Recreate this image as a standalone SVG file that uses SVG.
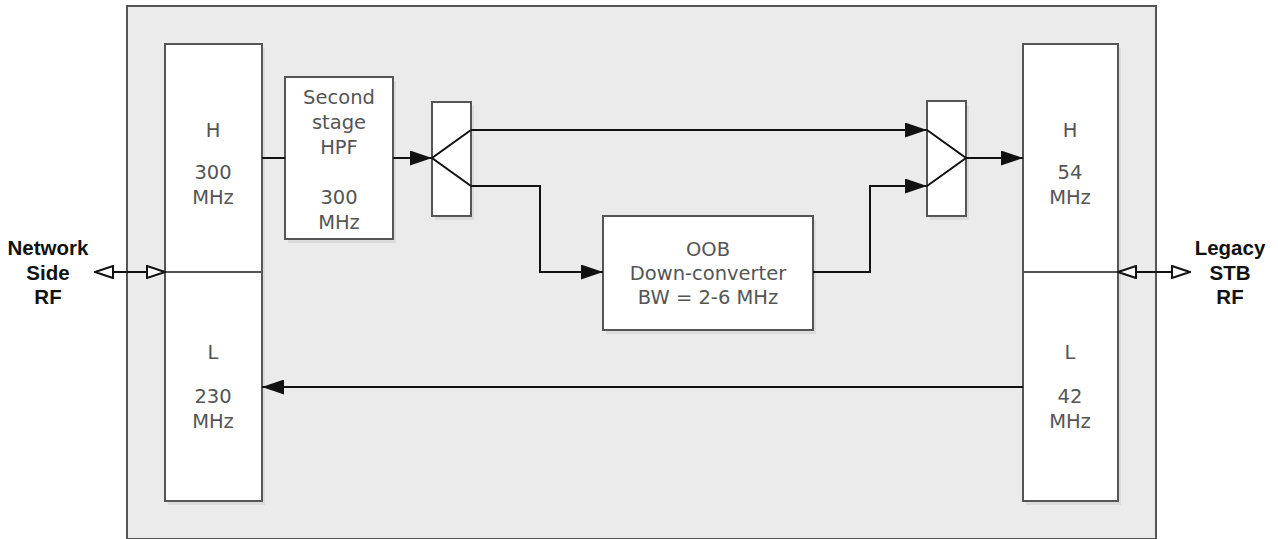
<svg xmlns="http://www.w3.org/2000/svg" width="1278" height="539" viewBox="0 0 1278 539">
<defs>
<style>
.box{fill:#fff;stroke:#555;stroke-width:2}
.sh{fill:#dcdcdc}
.t{font-family:"DejaVu Sans",Verdana,sans-serif;font-size:19.5px;fill:#555;text-anchor:middle}
.lb{font-family:"Liberation Sans",Arial,sans-serif;font-size:20.5px;font-weight:bold;fill:#111;text-anchor:middle}
.ln{fill:none;stroke:#111;stroke-width:2}
.dv{stroke:#555;stroke-width:2}
</style>
<marker id="ah" viewBox="0 0 22 15" refX="22" refY="7.5" markerWidth="22" markerHeight="15" markerUnits="userSpaceOnUse" orient="auto"><path d="M0,0 L22,7.5 L0,15 z" fill="#111"/></marker>
<marker id="oh" viewBox="0 0 20 14" refX="19" refY="7" markerWidth="20" markerHeight="14" markerUnits="userSpaceOnUse" orient="auto-start-reverse"><path d="M1,1 L19,7 L1,13 z" fill="#fff" stroke="#111" stroke-width="2"/></marker>
</defs>
<rect x="0" y="0" width="1278" height="539" fill="#fff"/>
<g id="enclosure"><rect x="127" y="6" width="1029" height="533" fill="#ebebeb" stroke="#555" stroke-width="2"/></g>
<g id="left-diplexer">
<rect class="sh" x="168" y="48" width="97" height="457"/>
<rect class="box" x="165" y="44" width="97" height="457"/>
<line class="dv" x1="165" y1="272" x2="262" y2="272"/>
<text class="t" x="213" y="137">H</text>
<text class="t" x="213" y="179">300</text>
<text class="t" x="213" y="204">MHz</text>
<text class="t" x="213" y="359">L</text>
<text class="t" x="213" y="403">230</text>
<text class="t" x="213" y="428">MHz</text>
</g>
<g id="right-diplexer">
<rect class="sh" x="1026" y="48" width="95" height="457"/>
<rect class="box" x="1023" y="44" width="95" height="457"/>
<line class="dv" x1="1023" y1="272" x2="1118" y2="272"/>
<text class="t" x="1070" y="137">H</text>
<text class="t" x="1070" y="179">54</text>
<text class="t" x="1070" y="204">MHz</text>
<text class="t" x="1070" y="359">L</text>
<text class="t" x="1070" y="403">42</text>
<text class="t" x="1070" y="428">MHz</text>
</g>
<g id="hpf">
<rect class="sh" x="288" y="81" width="108" height="162"/>
<rect class="box" x="285" y="77" width="108" height="162"/>
<text class="t" x="339" y="104">Second</text>
<text class="t" x="339" y="129">stage</text>
<text class="t" x="339" y="154">HPF</text>
<text class="t" x="339" y="204">300</text>
<text class="t" x="339" y="229">MHz</text>
</g>
<g id="splitter">
<rect class="sh" x="435" y="106" width="39" height="114"/>
<rect class="box" x="432" y="102" width="39" height="114"/>
<path class="ln" d="M471,130 L432,158 L471,186"/>
</g>
<g id="combiner">
<rect class="sh" x="930" y="105" width="39" height="115"/>
<rect class="box" x="927" y="101" width="39" height="115"/>
<path class="ln" d="M927,130 L966,158 L927,186"/>
</g>
<g id="oob">
<rect class="sh" x="606" y="220" width="210" height="114"/>
<rect class="box" x="603" y="216" width="210" height="114"/>
<text class="t" x="708" y="256">OOB</text>
<text class="t" x="708" y="280">Down-converter</text>
<text class="t" x="708" y="304">BW = 2-6 MHz</text>
</g>
<g id="network-side">
<text class="lb" x="48" y="255">Network</text>
<text class="lb" x="48" y="280">Side</text>
<text class="lb" x="48" y="304">RF</text>
</g>
<g id="legacy-stb">
<text class="lb" x="1230" y="255">Legacy</text>
<text class="lb" x="1230" y="280">STB</text>
<text class="lb" x="1230" y="304">RF</text>
</g>
<g id="connectors">
<line class="ln" x1="262" y1="158" x2="285" y2="158"/>
<line class="ln" x1="393" y1="158" x2="432" y2="158" marker-end="url(#ah)"/>
<line class="ln" x1="471" y1="130" x2="927" y2="130" marker-end="url(#ah)"/>
<path class="ln" d="M471,186 H540 V272 H603" marker-end="url(#ah)"/>
<path class="ln" d="M813,272 H870 V186 H927" marker-end="url(#ah)"/>
<line class="ln" x1="966" y1="158" x2="1023" y2="158" marker-end="url(#ah)"/>
<line class="ln" x1="1023" y1="387" x2="262" y2="387" marker-end="url(#ah)"/>
<line class="ln" x1="95" y1="272" x2="165" y2="272" marker-start="url(#oh)" marker-end="url(#oh)"/>
<line class="ln" x1="1118" y1="272" x2="1190" y2="272" marker-start="url(#oh)" marker-end="url(#oh)"/>
</g>
</svg>
